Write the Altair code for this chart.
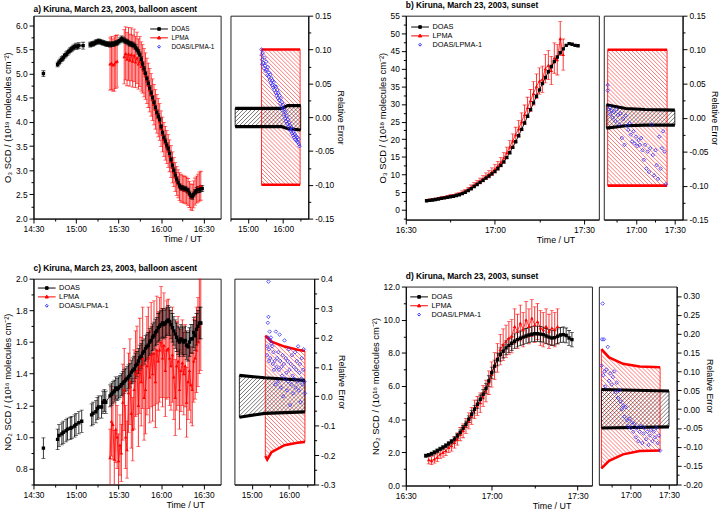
import altair as alt
import numpy as np
import pandas as pd

FONT = "Liberation Sans"
RED = "#ff0000"
BLUE = "#2b2bff"

# ------------------------------------------------------------------
# time values are minutes after midnight (UT)
# ------------------------------------------------------------------
# Panel a  (O3, balloon ascent)
a_doas_t = [877, 887, 888, 889, 890, 891, 892, 893, 894, 895, 896, 897, 898, 899, 900, 901, 902, 905,
            910, 911, 912, 913, 914, 915, 916, 917, 918, 919, 920, 921, 922, 923, 924, 925, 926, 927, 928, 929,
            930, 931, 932, 933, 934, 935, 936, 937, 938, 939,
            940, 941, 942, 943, 944, 945, 946, 947, 948, 949, 950, 951, 952, 953, 954, 955, 956, 957, 958, 959,
            960, 961, 962, 963, 964, 965, 966, 967, 968, 969, 970, 971, 972, 973, 974, 975, 976, 977, 978, 979,
            980, 981, 982, 983, 984, 985, 986, 987, 988, 989]
a_doas_v = [5.00, 5.19, 5.23, 5.27, 5.30, 5.33, 5.37, 5.40, 5.43, 5.46, 5.49, 5.51, 5.54, 5.56, 5.57, 5.56, 5.58, 5.58,
            5.60, 5.61, 5.62, 5.63, 5.65, 5.66, 5.67, 5.66, 5.65, 5.64, 5.63, 5.62, 5.61, 5.61, 5.60, 5.61, 5.61, 5.62, 5.63, 5.64,
            5.66, 5.69, 5.72, 5.71, 5.69, 5.67, 5.66, 5.64, 5.62, 5.61,
            5.60, 5.58, 5.55, 5.50, 5.45, 5.40, 5.30, 5.20, 5.10, 5.00, 4.90, 4.80, 4.70, 4.60, 4.50, 4.40, 4.30, 4.20, 4.12, 4.05,
            3.90, 3.78, 3.68, 3.60, 3.52, 3.45, 3.35, 3.22, 3.10, 3.00, 2.90, 2.82, 2.75, 2.68, 2.64, 2.63, 2.62, 2.61, 2.60, 2.58,
            2.52, 2.47, 2.45, 2.50, 2.55, 2.58, 2.60, 2.60, 2.62, 2.62]
a_doas_e = [0.06, 0.05, 0.05, 0.05, 0.05, 0.05, 0.05, 0.05, 0.05, 0.05, 0.05, 0.05, 0.05, 0.05, 0.06, 0.05, 0.06, 0.07,
            0.05, 0.05, 0.05, 0.05, 0.05, 0.05, 0.05, 0.05, 0.05, 0.05, 0.05, 0.05, 0.05, 0.05, 0.05, 0.05, 0.05, 0.05, 0.05, 0.05,
            0.05, 0.05, 0.06, 0.05, 0.05, 0.05, 0.05, 0.05, 0.05, 0.05,
            0.05, 0.05, 0.05, 0.05, 0.05, 0.05, 0.05, 0.05, 0.05, 0.05, 0.05, 0.05, 0.05, 0.05, 0.05, 0.05, 0.05, 0.05, 0.05, 0.05,
            0.05, 0.05, 0.05, 0.05, 0.05, 0.05, 0.05, 0.05, 0.05, 0.05, 0.05, 0.05, 0.05, 0.05, 0.05, 0.05, 0.05, 0.05, 0.05, 0.05,
            0.05, 0.05, 0.05, 0.05, 0.05, 0.06, 0.06, 0.06, 0.06, 0.06]
a_lpma_t = [924, 925, 926, 927, 928, 929,
            934, 935, 936, 937, 938, 939, 940, 941, 942, 943, 944, 945, 946, 947, 948,
            949, 950, 951, 952, 953, 954, 955, 956, 957, 958, 959, 960, 961, 962, 963, 964, 965, 966, 967, 968,
            969, 970, 971, 972, 973, 974, 975, 976, 977, 978, 979, 980, 981, 982, 983, 984, 985, 986, 987, 988]
a_lpma_v = [5.20, 5.22, 5.18, 5.20, 5.24, 5.26,
            5.35, 5.42, 5.30, 5.41, 5.28, 5.40, 5.26, 5.38, 5.24, 5.33, 5.20, 5.25, 5.15, 5.10, 5.02,
            4.95, 4.85, 4.76, 4.66, 4.56, 4.46, 4.36, 4.26, 4.17, 4.09, 4.00, 3.86, 3.74, 3.64, 3.56, 3.48, 3.40, 3.30, 3.18, 3.06,
            2.96, 2.86, 2.78, 2.72, 2.66, 2.63, 2.62, 2.60, 2.60, 2.58, 2.55, 2.50, 2.45, 2.44, 2.50, 2.56, 2.60, 2.63, 2.66, 2.68]
a_lpma_e = [0.54, 0.55, 0.54, 0.56, 0.55, 0.54,
            0.56, 0.55, 0.55, 0.55, 0.54, 0.55, 0.54, 0.54, 0.53, 0.53, 0.52, 0.52, 0.51, 0.50, 0.50,
            0.48, 0.47, 0.46, 0.45, 0.44, 0.43, 0.42, 0.41, 0.40, 0.40, 0.38, 0.37, 0.36, 0.35, 0.35, 0.34, 0.34, 0.33, 0.33, 0.32,
            0.30, 0.30, 0.30, 0.29, 0.29, 0.29, 0.28, 0.28, 0.28, 0.28, 0.28, 0.27, 0.27, 0.27, 0.28, 0.28, 0.28, 0.29, 0.30, 0.30]
# side panel a
a_blk_t = [878, 957, 968, 990]
a_blk_up = [0.013, 0.013, 0.017, 0.017]
a_blk_lo = [-0.014, -0.014, -0.017, -0.019]
a_red_t = [923, 989]
a_red_up = [0.10, 0.10]
a_red_lo = [-0.10, -0.10]
a_q_t = [923, 923, 924, 924,
         925, 926, 927, 928, 929, 930, 931, 932, 933, 934,
         935, 936, 937, 938, 939, 940, 941, 942, 943, 944,
         945, 946, 947, 948, 949, 950, 951, 952, 953, 954,
         955, 956, 957, 958, 959, 960, 961, 962, 963, 964,
         965, 966, 967, 968, 969, 970, 971, 972, 973, 974,
         975, 976, 977, 978, 979, 980, 981, 982, 983, 984,
         985, 986, 987, 988]
a_q_v = [0.100, 0.092, 0.085, 0.078,
         0.095, 0.080, 0.072, 0.088, 0.076, 0.068, 0.082, 0.070, 0.062, 0.074,
         0.060, 0.066, 0.055, 0.063, 0.050, 0.058, 0.047, 0.054, 0.044, 0.052,
         0.040, 0.046, 0.036, 0.045, 0.032, 0.040, 0.028, 0.036, 0.025, 0.032,
         0.020, 0.028, 0.015, 0.022, 0.010, 0.018, 0.004, 0.012, -0.002, 0.008,
         -0.006, 0.002, -0.010, -0.003, -0.014, -0.008, -0.018, -0.012, -0.020, -0.015,
         -0.024, -0.018, -0.027, -0.022, -0.030, -0.025, -0.033, -0.028, -0.035, -0.030,
         -0.037, -0.033, -0.040, -0.043]

# Panel b  (O3, sunset)
b_doas_t = [997, 998, 999, 1000, 1001, 1002, 1003, 1004, 1005, 1006, 1007, 1008, 1009, 1010, 1011, 1012, 1013, 1014,
            1015, 1016, 1017, 1018, 1019, 1020, 1021, 1022, 1023, 1024, 1025, 1026, 1027, 1028, 1029, 1030, 1031,
            1032, 1033, 1034, 1035, 1036, 1037, 1038, 1039, 1040, 1041, 1042, 1043, 1044, 1045, 1046, 1047, 1048]
b_doas_v = [2.6, 2.7, 2.8, 2.95, 3.1, 3.25, 3.4, 3.55, 3.7, 3.85, 4.05, 4.3, 4.6, 5.0, 5.5, 6.0, 6.6, 7.2,
            7.8, 8.4, 9.0, 9.6, 10.2, 10.9, 11.7, 12.6, 13.6, 14.8, 16.2, 17.7, 19.3, 21.0, 22.8, 24.6, 26.5,
            28.4, 30.3, 32.2, 34.0, 35.8, 37.5, 39.1, 40.6, 42.0, 43.3, 44.5, 45.6, 46.6, 47.1, 46.9, 46.6, 46.5]
b_lpma_t = [998, 999, 1000, 1001, 1002, 1003, 1004, 1005, 1006, 1007, 1008, 1009, 1010, 1011, 1012, 1013,
            1014, 1015, 1016, 1017, 1018, 1019, 1020, 1021, 1022, 1023, 1024, 1025, 1026, 1027, 1028, 1029,
            1030, 1031, 1032, 1033, 1034, 1035, 1036, 1037, 1038, 1039, 1040, 1041, 1042, 1043]
b_lpma_v = [2.8, 2.9, 3.0, 3.2, 3.4, 3.5, 3.7, 3.9, 4.0, 4.3, 4.5, 4.9, 5.3, 5.8, 6.4, 7.0,
            7.6, 8.2, 8.8, 9.5, 10.1, 10.8, 11.6, 12.5, 13.5, 14.7, 16.2, 17.8, 19.5, 21.3, 23.0, 25.0,
            27.0, 29.0, 31.0, 33.0, 35.0, 36.5, 37.0, 40.0, 41.0, 39.5, 43.0, 42.5, 48.5, 44.0]
b_lpma_e = [0.28, 0.29, 0.30, 0.32, 0.34, 0.35, 0.37, 0.39, 0.40, 0.43, 0.45, 0.49, 0.53, 0.58, 0.64, 0.70,
            0.76, 0.82, 0.88, 0.95, 1.0, 1.1, 1.2, 1.25, 1.35, 1.5, 1.6, 1.8, 2.0, 2.1, 2.3, 2.5,
            2.7, 2.9, 3.1, 3.3, 3.5, 3.7, 3.7, 4.0, 4.1, 4.0, 4.3, 4.3, 4.8, 4.4]
b_blk_t = [997, 1012, 1027, 1050]
b_blk_up = [0.019, 0.0135, 0.012, 0.011]
b_blk_lo = [-0.0155, -0.012, -0.011, -0.011]
b_red_t = [998, 1044]
b_red_up = [0.10, 0.10]
b_red_lo = [-0.10, -0.10]
b_q_t = [998, 998, 999, 1000, 1000,
         1001, 1002, 1003, 1004, 1005, 1006, 1007, 1008, 1009, 1010,
         1011, 1012, 1013, 1014, 1015, 1016, 1017, 1018, 1019, 1020,
         1021, 1022, 1023, 1024, 1025, 1026, 1027, 1028, 1029, 1030,
         1031, 1032, 1033, 1034, 1035, 1036, 1037, 1038, 1039, 1040,
         1041, 1042, 1043]
b_q_v = [0.040, 0.048, 0.012, 0.005, 0.015,
         0.010, 0.000, 0.008, -0.005, 0.012, 0.004, -0.010, 0.006, -0.030, -0.002,
         -0.040, 0.003, -0.012, -0.018, -0.008, -0.025, -0.035, -0.020, -0.038, -0.028,
         -0.042, -0.033, -0.040, -0.030, -0.048, -0.062, -0.040, -0.075, -0.050, -0.080,
         -0.045, -0.010, -0.055, -0.085, -0.048, -0.070, -0.090, -0.028, -0.075, -0.045,
         -0.020, -0.050, -0.098]

# Panel c  (NO2, balloon ascent)
c_doas_t = [877, 887, 888, 890, 891, 893, 894, 896, 897, 899, 900, 902, 904,
            911, 912, 914, 915, 916, 918, 919, 920, 921, 924, 925, 926, 927, 928, 929,
            930, 931, 932, 933, 934, 935, 936, 937, 938, 939, 940, 941, 942, 943, 944, 945, 946, 947, 948, 949,
            950, 951, 952, 953, 954, 955, 956, 957, 958, 959, 960, 961, 962, 963, 964, 965, 966, 967, 968, 969,
            970, 971, 972, 973, 974, 975, 976, 977, 978, 979, 980, 981, 982, 983, 984, 985, 986, 987, 988]
c_doas_v = [0.93, 0.985, 1.01, 1.02, 1.03, 1.04, 1.05, 1.055, 1.06, 1.07, 1.08, 1.09, 1.10,
            1.14, 1.15, 1.16, 1.18, 1.19, 1.19, 1.22, 1.23, 1.22, 1.26, 1.27, 1.28, 1.29, 1.31, 1.30,
            1.31, 1.32, 1.33, 1.34, 1.35, 1.36, 1.37, 1.38, 1.39, 1.41, 1.42, 1.43, 1.45, 1.46, 1.48, 1.50, 1.51, 1.53, 1.54, 1.56,
            1.57, 1.58, 1.60, 1.61, 1.63, 1.64, 1.66, 1.67, 1.69, 1.70, 1.71, 1.72, 1.71, 1.72, 1.73, 1.74, 1.73, 1.71, 1.69, 1.67,
            1.65, 1.63, 1.61, 1.60, 1.62, 1.61, 1.60, 1.61, 1.58, 1.57, 1.60, 1.62, 1.62, 1.66, 1.64, 1.68, 1.70, 1.72, 1.72]
c_doas_e = [0.065, 0.065, 0.07, 0.07, 0.07, 0.07, 0.07, 0.07, 0.07, 0.07, 0.07, 0.07, 0.07,
            0.07, 0.07, 0.07, 0.07, 0.07, 0.07, 0.07, 0.07, 0.07, 0.07, 0.07, 0.07, 0.07, 0.07, 0.07,
            0.07, 0.07, 0.07, 0.075, 0.075, 0.075, 0.075, 0.075, 0.075, 0.075, 0.08, 0.08, 0.08, 0.08, 0.08, 0.08, 0.08, 0.08, 0.08, 0.08,
            0.08, 0.08, 0.085, 0.085, 0.085, 0.085, 0.085, 0.085, 0.09, 0.09, 0.09, 0.09, 0.09, 0.09, 0.09, 0.09, 0.09, 0.09, 0.09, 0.09,
            0.09, 0.09, 0.09, 0.09, 0.09, 0.09, 0.09, 0.09, 0.09, 0.09, 0.09, 0.09, 0.09, 0.095, 0.095, 0.10, 0.10, 0.10, 0.10]
c_lpma_t = [924, 925, 926, 927, 928, 929, 930, 931, 932, 933, 934, 935, 936, 937, 938, 939, 940, 941, 942, 943,
            944, 945, 946, 947, 948, 949, 950, 951, 952, 953, 954, 955, 956, 957, 958, 959, 960, 961, 962, 963,
            964, 965, 966, 967, 968, 969, 970, 971, 972, 973, 974, 975, 976, 977, 978, 979, 980, 981, 982, 983,
            984, 985, 986, 987, 988]
c_lpma_v = [0.87, 1.10, 1.08, 0.86, 1.05, 1.00, 0.85, 0.95, 0.90, 1.22, 1.30, 1.00, 0.92, 1.28, 1.35, 1.15, 1.05, 1.30, 1.40, 1.42,
            1.20, 1.45, 1.35, 1.50, 1.25, 1.30, 1.45, 1.50, 1.38, 1.52, 1.40, 1.53, 1.35, 1.55, 1.48, 1.55, 1.60, 1.50, 1.58, 1.42,
            1.55, 1.56, 1.50, 1.45, 1.52, 1.38, 1.25, 1.45, 1.48, 1.30, 1.42, 1.47, 1.40, 1.45, 1.22, 1.35, 1.42, 1.33, 1.30, 1.48,
            1.50, 1.55, 1.60, 1.70, 1.72]
c_lpma_e = [0.18, 0.22, 0.22, 0.18, 0.21, 0.20, 0.17, 0.19, 0.18, 0.24, 0.26, 0.20, 0.18, 0.25, 0.27, 0.22, 0.20, 0.25, 0.27, 0.28,
            0.26, 0.30, 0.28, 0.32, 0.27, 0.28, 0.31, 0.32, 0.29, 0.33, 0.30, 0.33, 0.29, 0.34, 0.31, 0.33, 0.35, 0.31, 0.33, 0.29,
            0.31, 0.31, 0.30, 0.28, 0.30, 0.27, 0.24, 0.28, 0.28, 0.25, 0.26, 0.27, 0.26, 0.26, 0.22, 0.24, 0.25, 0.24, 0.23, 0.26,
            0.26, 0.27, 0.28, 0.30, 0.30]
c_blk_t = [880, 921, 986]
c_blk_up = [0.071, 0.063, 0.054]
c_blk_lo = [-0.071, -0.058, -0.053]
c_red_t = [922, 925, 932, 953, 974, 986]
c_red_up = [0.206, 0.200, 0.186, 0.169, 0.158, 0.154]
c_red_lo = [-0.203, -0.215, -0.190, -0.166, -0.158, -0.155]
c_q_t = [925, 925, 926, 926, 927, 927, 928, 928, 929, 930, 930,
         931, 932, 933, 934, 935, 936, 937, 938, 939, 940,
         941, 942, 943, 944, 945, 946, 947, 948, 949, 950,
         951, 952, 953, 954, 955, 956, 957, 958, 959, 960,
         961, 962, 963, 964, 965, 966, 967, 968, 969, 970,
         971, 972, 973, 974, 975, 976, 977, 978, 979, 980,
         981, 982, 983, 984, 985, 986]
c_q_v = [0.14, 0.17, 0.25, 0.20, 0.39, 0.27, 0.16, 0.12, 0.22, 0.19, 0.13,
         0.20, 0.18, 0.17, 0.11, 0.15, 0.09, 0.12, 0.04, 0.22, 0.10,
         0.13, 0.05, 0.15, 0.09, 0.21, 0.12, 0.03, 0.10, 0.07, 0.14,
         0.00, 0.11, 0.19, 0.06, 0.13, 0.08, 0.02, 0.12, 0.05, 0.16,
         0.09, -0.03, 0.11, 0.04, 0.14, 0.07, 0.01, 0.10, 0.06, 0.15,
         0.03, 0.09, 0.12, 0.05, 0.17, 0.02, 0.08, 0.11, -0.02, 0.06,
         0.13, 0.04, 0.09, 0.16, 0.05, 0.01]

# Panel d  (NO2, sunset)
d_doas_t = [997, 998, 999, 1000, 1001, 1002, 1003, 1004, 1005, 1006, 1007, 1008, 1009, 1010, 1011, 1012, 1013,
            1014, 1015, 1016, 1017, 1018, 1019, 1020, 1021, 1022, 1023, 1024, 1025, 1026, 1027, 1028, 1029, 1030,
            1031, 1032, 1033, 1034, 1035, 1036, 1037, 1038, 1039, 1040, 1041, 1042, 1043, 1044, 1045, 1046, 1047, 1048]
d_doas_v = [1.80, 1.85, 1.92, 2.00, 2.10, 2.20, 2.30, 2.40, 2.52, 2.65, 2.80, 3.00, 3.20, 3.45, 3.70, 4.00, 4.30,
            4.60, 4.90, 5.20, 5.50, 5.85, 6.30, 6.80, 7.20, 7.60, 7.90, 8.10, 8.30, 8.45, 8.58, 8.70, 8.80, 8.88,
            8.95, 9.02, 9.08, 9.12, 9.15, 9.15, 9.13, 9.10, 9.02, 8.95, 8.90, 8.92, 9.00, 9.08, 9.10, 9.05, 8.90, 8.80]
d_doas_e = [0.09, 0.09, 0.10, 0.10, 0.11, 0.11, 0.12, 0.12, 0.13, 0.13, 0.14, 0.15, 0.16, 0.17, 0.19, 0.20, 0.22,
            0.23, 0.25, 0.26, 0.28, 0.29, 0.32, 0.34, 0.36, 0.38, 0.40, 0.41, 0.42, 0.42, 0.43, 0.44, 0.44, 0.44,
            0.45, 0.45, 0.45, 0.46, 0.46, 0.46, 0.46, 0.45, 0.45, 0.45, 0.44, 0.45, 0.45, 0.45, 0.46, 0.45, 0.45, 0.44]
d_lpma_t = [998, 999, 1000, 1001, 1002, 1003, 1004, 1005, 1006, 1007, 1008, 1009, 1010, 1011, 1012, 1013,
            1014, 1015, 1016, 1017, 1018, 1019, 1020, 1021, 1022, 1023, 1024, 1025, 1026, 1027, 1028, 1029,
            1030, 1031, 1032, 1033, 1034, 1035, 1036, 1037, 1038, 1039, 1040, 1041, 1042, 1043]
d_lpma_v = [1.55, 1.50, 1.60, 1.70, 1.90, 2.00, 2.10, 2.30, 2.40, 2.60, 2.80, 3.10, 3.30, 3.60, 3.90, 4.20,
            4.60, 4.80, 5.00, 5.40, 5.70, 6.20, 6.70, 7.20, 7.70, 8.20, 8.50, 8.70, 8.90, 9.00, 9.60, 9.30,
            9.80, 9.40, 10.0, 9.60, 10.1, 9.70, 9.90, 9.50, 9.40, 9.60, 9.30, 9.50, 9.40, 9.60]
d_lpma_e = [0.25, 0.24, 0.25, 0.26, 0.28, 0.29, 0.30, 0.32, 0.33, 0.35, 0.37, 0.40, 0.42, 0.45, 0.48, 0.51,
            0.55, 0.57, 0.59, 0.63, 0.66, 0.71, 0.76, 0.81, 0.86, 0.92, 0.95, 0.97, 0.99, 1.00, 1.06, 1.03,
            1.08, 1.04, 1.10, 1.06, 1.11, 1.07, 1.09, 1.05, 1.04, 1.06, 1.03, 1.05, 1.04, 1.06]
d_blk_t = [997, 1050]
d_blk_up = [0.052, 0.048]
d_blk_lo = [-0.050, -0.047]
d_red_t = [997, 1003, 1014, 1027, 1043]
d_red_up = [0.159, 0.137, 0.120, 0.113, 0.111]
d_red_lo = [-0.157, -0.137, -0.120, -0.111, -0.110]
d_q_t = [997, 997.5, 998, 998.5, 999, 999.5, 1000, 1001, 1002, 1003, 1004, 1005, 1006, 1007, 1008,
         1009, 1010, 1011, 1012, 1013, 1014, 1015, 1016, 1017, 1018,
         1019, 1020, 1021, 1022, 1023, 1024, 1025, 1026, 1027, 1028,
         1029, 1030, 1031, 1032, 1033, 1034, 1035, 1036, 1037, 1038,
         1039, 1040, 1041, 1042, 1043]
d_q_v = [0.115, 0.185, 0.28, 0.09, 0.185, 0.10, 0.06, 0.105, 0.165, 0.075, 0.095, 0.065, 0.085, 0.10, 0.045,
         0.07, 0.03, 0.05, 0.02, 0.0, 0.01, -0.02, 0.005, -0.03, -0.045,
         -0.025, -0.05, -0.035, -0.06, -0.04, -0.075, -0.05, -0.085, -0.06, -0.045,
         -0.09, -0.065, -0.05, -0.08, -0.06, -0.095, -0.07, -0.055, -0.085, -0.06,
         -0.075, -0.05, -0.09, -0.07, -0.11]

LEG_NAMES = ["DOAS", "LPMA", "DOAS/LPMA-1"]
# legend symbols: line through a marker (drawn with a 10 px symbol box, line reaching +-9 px)
SQ = "M-1.8,0L1.8,0M-0.27,-0.27L0.27,-0.27L0.27,0.27L-0.27,0.27Z"
TRI = "M-1.8,0L1.8,0M0,-0.36L0.32,0.23L-0.32,0.23Z"
DIA = "M0,-0.3L0.27,0L0,0.3L-0.27,0Z"


def time_label(major):
    return (f"datum.value % {major} == 0 ? format(floor(datum.value / 60), '02d') + ':' + "
            f"format(datum.value % 60, '02d') : ''")


def num_label(major, fmt):
    return (f"abs(datum.value / {major} - round(datum.value / {major})) < 0.001 ? "
            f"replace(format(datum.value, '{fmt}'), '\u2212', '-') : ''")


def tick_cond(test):
    return {"condition": {"test": test, "value": 2.5}, "value": 4.5}


def y_ticks(lo, hi, step):
    return [float(v) for v in np.round(np.arange(lo, hi + step / 2, step), 4)]


def hatch_segments(bt, bup, blo, xdom, ydom, w, h, sgn, gap):
    bt = np.asarray(bt, float)
    kx = w / (xdom[1] - xdom[0])
    ky = h / (ydom[1] - ydom[0])
    x0, x1 = (bt[0] - xdom[0]) * kx, (bt[-1] - xdom[0]) * kx
    xs = np.linspace(x0, x1, int((x1 - x0) * 4) + 2)
    ts = xdom[0] + xs / kx
    yu = (ydom[1] - np.interp(ts, bt, bup)) * ky
    yl = (ydom[1] - np.interp(ts, bt, blo)) * ky
    if sgn > 0:
        cs = np.arange(yu.min() - x1, yl.max() - x0, gap * np.sqrt(2))
    else:
        cs = np.arange(yu.min() + x0, yl.max() + x1, gap * np.sqrt(2))
    rows = []
    for c in cs:
        ys = sgn * xs + c
        inside = (ys >= yu) & (ys <= yl)
        if not inside.any():
            continue
        idx = np.flatnonzero(inside)
        br = np.flatnonzero(np.diff(idx) > 1)
        starts = np.r_[idx[0], idx[br + 1]]
        ends = np.r_[idx[br], idx[-1]]
        for s, e in zip(starts, ends):
            if e <= s:
                continue
            rows.append({"t0": xdom[0] + xs[s] / kx, "t1": xdom[0] + xs[e] / kx,
                         "v0": ydom[1] - ys[s] / ky, "v1": ydom[1] - ys[e] / ky})
    return pd.DataFrame(rows)


def series_df(t, v, e):
    df = pd.DataFrame({"t": t, "v": v})
    if e is not None:
        df["lo"] = df.v - np.asarray(e)
        df["hi"] = df.v + np.asarray(e)
    df["seg"] = (df.t.diff() > 3).cumsum()
    return df


def main_panel(dt, dv, de, lt, lv, le, xdom, xvals, ydom, yvals, ymaj, yfmt, ytitle,
               w, h, title, lx, ly, lfs, title_x):
    xs = alt.Scale(domain=xdom, nice=False, zero=False)
    ys = alt.Scale(domain=ydom, nice=False, zero=False)
    xax = alt.Axis(values=xvals, labelExpr=time_label(30), tickSize=tick_cond("datum.value % 30 != 0"),
                   title="Time / UT", titleX=title_x, titleY=16.5, titleBaseline="top", titleAlign="center",
                   labelFlush=False)
    yax = alt.Axis(values=yvals, labelExpr=num_label(ymaj, yfmt),
                   tickSize=tick_cond(f"abs(datum.value / {ymaj} - round(datum.value / {ymaj})) > 0.001"),
                   title=ytitle, titleFontSize=9.5, labelFlush=False)

    def X(f):
        return alt.X(f, type="quantitative", scale=xs, axis=xax)

    def Y(f):
        return alt.Y(f, type="quantitative", scale=ys, axis=yax)

    ddf = series_df(dt, dv, de)
    ldf = series_df(lt, lv, le)
    L = alt.Chart(ldf)
    D = alt.Chart(ddf)
    layers = [
        L.mark_rule(color=RED, strokeWidth=0.8, clip=True).encode(x=X("t"), y=Y("lo"), y2="hi"),
        L.mark_tick(color=RED, orient="horizontal", size=4, thickness=0.8, clip=True).encode(x=X("t"), y=Y("lo")),
        L.mark_tick(color=RED, orient="horizontal", size=4, thickness=0.8, clip=True).encode(x=X("t"), y=Y("hi")),
    ]
    if de is not None:
        layers += [
            D.mark_rule(color="black", strokeWidth=0.8, clip=True).encode(x=X("t"), y=Y("lo"), y2="hi"),
            D.mark_tick(color="black", orient="horizontal", size=4, thickness=0.8, clip=True).encode(x=X("t"), y=Y("lo")),
            D.mark_tick(color="black", orient="horizontal", size=4, thickness=0.8, clip=True).encode(x=X("t"), y=Y("hi")),
        ]
    layers += [
        L.mark_line(color=RED, strokeWidth=0.8, clip=True).encode(x=X("t"), y=Y("v"), detail="seg:N"),
        L.mark_point(shape="triangle-up", filled=True, color=RED, size=13, opacity=1, clip=True).encode(x=X("t"), y=Y("v")),
        D.mark_line(color="black", strokeWidth=0.9, clip=True).encode(x=X("t"), y=Y("v"), detail="seg:N"),
        D.mark_point(shape="square", filled=True, color="black", size=12, opacity=1, clip=True).encode(x=X("t"), y=Y("v")),
    ]
    leg = alt.Legend(title=None, orient="none", legendX=lx, legendY=ly, labelFontSize=lfs, labelFont=FONT,
                     labelColor="black", symbolSize=100, symbolStrokeWidth=1, rowPadding=0, labelOffset=7,
                     padding=0, symbolOpacity=1)
    gdf = pd.DataFrame({"series": LEG_NAMES, "t": [xdom[0]] * 3, "v": [ydom[0]] * 3})
    layers.append(
        alt.Chart(gdf).transform_filter("datum.t < 0").mark_point(filled=True, opacity=1).encode(
            x=X("t"), y=Y("v"),
            fill=alt.Fill("series:N", scale=alt.Scale(domain=LEG_NAMES, range=["black", RED, "white"]), legend=leg),
            stroke=alt.Stroke("series:N", scale=alt.Scale(domain=LEG_NAMES, range=["black", RED, BLUE]), legend=leg),
            shape=alt.Shape("series:N", scale=alt.Scale(domain=LEG_NAMES, range=[SQ, TRI, DIA]), legend=leg),
        )
    )
    return alt.layer(*layers).properties(
        width=w, height=h,
        title=alt.TitleParams(title, anchor="start", frame="group", fontSize=8.5, fontWeight="bold",
                              font=FONT, offset=2, color="black"),
    )


def side_panel(bt, bup, blo, rt, rup, rlo, qt, qv, xdom, xvals, xmaj, ydom, yvals, ymaj, yfmt, w, h):
    xs = alt.Scale(domain=xdom, nice=False, zero=False)
    ys = alt.Scale(domain=ydom, nice=False, zero=False)
    xax = alt.Axis(values=xvals, labelExpr=time_label(xmaj), tickSize=tick_cond(f"datum.value % {xmaj} != 0"),
                   title=None, labelFlush=False)
    yax = alt.Axis(orient="right", values=yvals, labelExpr=num_label(ymaj, yfmt),
                   tickSize=tick_cond(f"abs(datum.value / {ymaj} - round(datum.value / {ymaj})) > 0.001"),
                   title="Relative Error", titlePadding=2, labelFlush=False)

    def X(f):
        return alt.X(f, type="quantitative", scale=xs, axis=xax)

    def Y(f):
        return alt.Y(f, type="quantitative", scale=ys, axis=yax)

    red_h = hatch_segments(rt, rup, rlo, xdom, ydom, w, h, +1, 2.9)
    blk_h = hatch_segments(bt, bup, blo, xdom, ydom, w, h, -1, 2.9)
    rdf = pd.DataFrame({"t": rt, "up": rup, "lo": rlo})
    bdf = pd.DataFrame({"t": bt, "up": bup, "lo": blo})
    qdf = pd.DataFrame({"t": qt, "v": qv})
    layers = [
        alt.Chart(red_h).mark_rule(color=RED, strokeWidth=0.6, opacity=0.9).encode(
            x=X("t0"), x2="t1", y=Y("v0"), y2="v1"),
        alt.Chart(blk_h).mark_rule(color="black", strokeWidth=0.6, opacity=0.9).encode(
            x=X("t0"), x2="t1", y=Y("v0"), y2="v1"),
        alt.Chart(rdf).mark_area(fillOpacity=0, stroke=RED, strokeWidth=0.8).encode(x=X("t"), y=Y("up"), y2="lo"),
        alt.Chart(bdf).mark_area(fillOpacity=0, stroke="black", strokeWidth=0.8).encode(x=X("t"), y=Y("up"), y2="lo"),
        alt.Chart(rdf).mark_line(color=RED, strokeWidth=2.6).encode(x=X("t"), y=Y("up")),
        alt.Chart(rdf).mark_line(color=RED, strokeWidth=2.6).encode(x=X("t"), y=Y("lo")),
        alt.Chart(bdf).mark_line(color="black", strokeWidth=3.2).encode(x=X("t"), y=Y("up")),
        alt.Chart(bdf).mark_line(color="black", strokeWidth=3.2).encode(x=X("t"), y=Y("lo")),
        alt.Chart(qdf).mark_point(shape="diamond", filled=False, color=BLUE, size=13, strokeWidth=0.8,
                                  opacity=1, clip=True).encode(x=X("t"), y=Y("v")),
    ]
    return alt.layer(*layers).properties(width=w, height=h)


XT_A = [870, 885, 900, 915, 930, 945, 960, 975, 990]
XT_B = [990, 1005, 1020, 1035, 1050]

main_a = main_panel(a_doas_t, a_doas_v, a_doas_e, a_lpma_t, a_lpma_v, a_lpma_e,
                    [870, 1002], XT_A, [2.0, 6.2], y_ticks(2.0, 6.0, 0.25), 0.5, ".1f",
                    "O\u2083 SCD / (10\u00b9\u2079 molecules cm\u207b\u00b2)", 190, 206,
                    "a) Kiruna, March 23, 2003, balloon ascent", 122, 8, 6.5, 151)
side_a = side_panel(a_blk_t, a_blk_up, a_blk_lo, a_red_t, a_red_up, a_red_lo, a_q_t, a_q_v,
                    [870, 1003], [870, 900, 930, 960, 990], 60, [-0.15, 0.15], y_ticks(-0.15, 0.15, 0.025),
                    0.05, ".2f", 79, 206)
main_b = main_panel(b_doas_t, b_doas_v, None, b_lpma_t, b_lpma_v, b_lpma_e,
                    [990, 1055], XT_B, [-2.75, 55], y_ticks(-2.5, 55, 2.5), 5, ".0f",
                    "O\u2083 SCD / (10\u00b9\u2078 molecules cm\u207b\u00b2)", 196, 207,
                    "b) Kiruna, March 23, 2003, sunset", 9, 6, 7.5, 152)
side_b = side_panel(b_blk_t, b_blk_up, b_blk_lo, b_red_t, b_red_up, b_red_lo, b_q_t, b_q_v,
                    [995, 1056], [1005, 1020, 1035, 1050], 30, [-0.15, 0.15], y_ticks(-0.15, 0.15, 0.025),
                    0.05, ".2f", 80, 207)
main_c = main_panel(c_doas_t, c_doas_v, c_doas_e, c_lpma_t, c_lpma_v, c_lpma_e,
                    [870, 1002], XT_A, [0.7, 2.0], y_ticks(0.7, 2.0, 0.1), 0.2, ".1f",
                    "NO\u2082 SCD / (10\u00b9\u2076 molecules cm\u207b\u00b2)", 190, 209,
                    "c) Kiruna, March 23, 2003, balloon ascent", 8, 4, 7.5, 154)
side_c = side_panel(c_blk_t, c_blk_up, c_blk_lo, c_red_t, c_red_up, c_red_lo, c_q_t, c_q_v,
                    [872, 1001], [900, 930, 960, 990], 60, [-0.3, 0.4], y_ticks(-0.3, 0.4, 0.05),
                    0.1, ".1f", 81, 209)
main_d = main_panel(d_doas_t, d_doas_v, d_doas_e, d_lpma_t, d_lpma_v, d_lpma_e,
                    [990, 1055], XT_B, [0.0, 12.0], y_ticks(0.0, 12.0, 1.0), 2, ".1f",
                    "NO\u2082 SCD / (10\u00b9\u2076 molecules cm\u207b\u00b2)", 189, 202,
                    "d) Kiruna, March 23, 2003, sunset", 8, 5, 7.5, 148)
side_d = side_panel(d_blk_t, d_blk_up, d_blk_lo, d_red_t, d_red_up, d_red_lo, d_q_t, d_q_v,
                    [995, 1056], [1005, 1020, 1035, 1050], 30, [-0.2, 0.325], y_ticks(-0.2, 0.3, 0.025),
                    0.05, ".2f", 79, 201)

IND = dict(fill="independent", stroke="independent", shape="independent")

row_a = alt.hconcat(main_a, side_a, spacing=10, bounds="flush").resolve_scale(**IND)
row_c = alt.hconcat(main_c, side_c, spacing=14, bounds="flush").resolve_scale(**IND)
row_b = alt.hconcat(main_b, side_b, spacing=5, bounds="flush").resolve_scale(**IND)
row_d = alt.hconcat(main_d, side_d, spacing=7, bounds="flush").resolve_scale(**IND)
left = alt.vconcat(row_a, row_c, spacing=20).resolve_scale(**IND)
# a blank, tiny column title lowers the right column so that panels b and d line up with a and c
right = alt.vconcat(row_b, row_d, spacing=27).resolve_scale(**IND).properties(
    title=alt.TitleParams(" ", fontSize=3, offset=2, anchor="start"))

chart = (
    alt.hconcat(left, right, spacing=23)
    .resolve_scale(**IND)
    .properties(padding={"left": 2, "top": -8, "right": 0, "bottom": 0})
    .configure(font=FONT)
    .configure_view(stroke="#222222", strokeWidth=1)
    .configure_axis(labelFont=FONT, labelFontSize=8.5, titleFont=FONT, titleFontSize=9,
                    titleFontWeight="normal", domainColor="black", tickColor="black",
                    labelColor="black", titleColor="black", grid=False, labelPadding=2, titlePadding=3)
)

chart.save("out.html", embed_options={"renderer": "svg", "actions": False})
